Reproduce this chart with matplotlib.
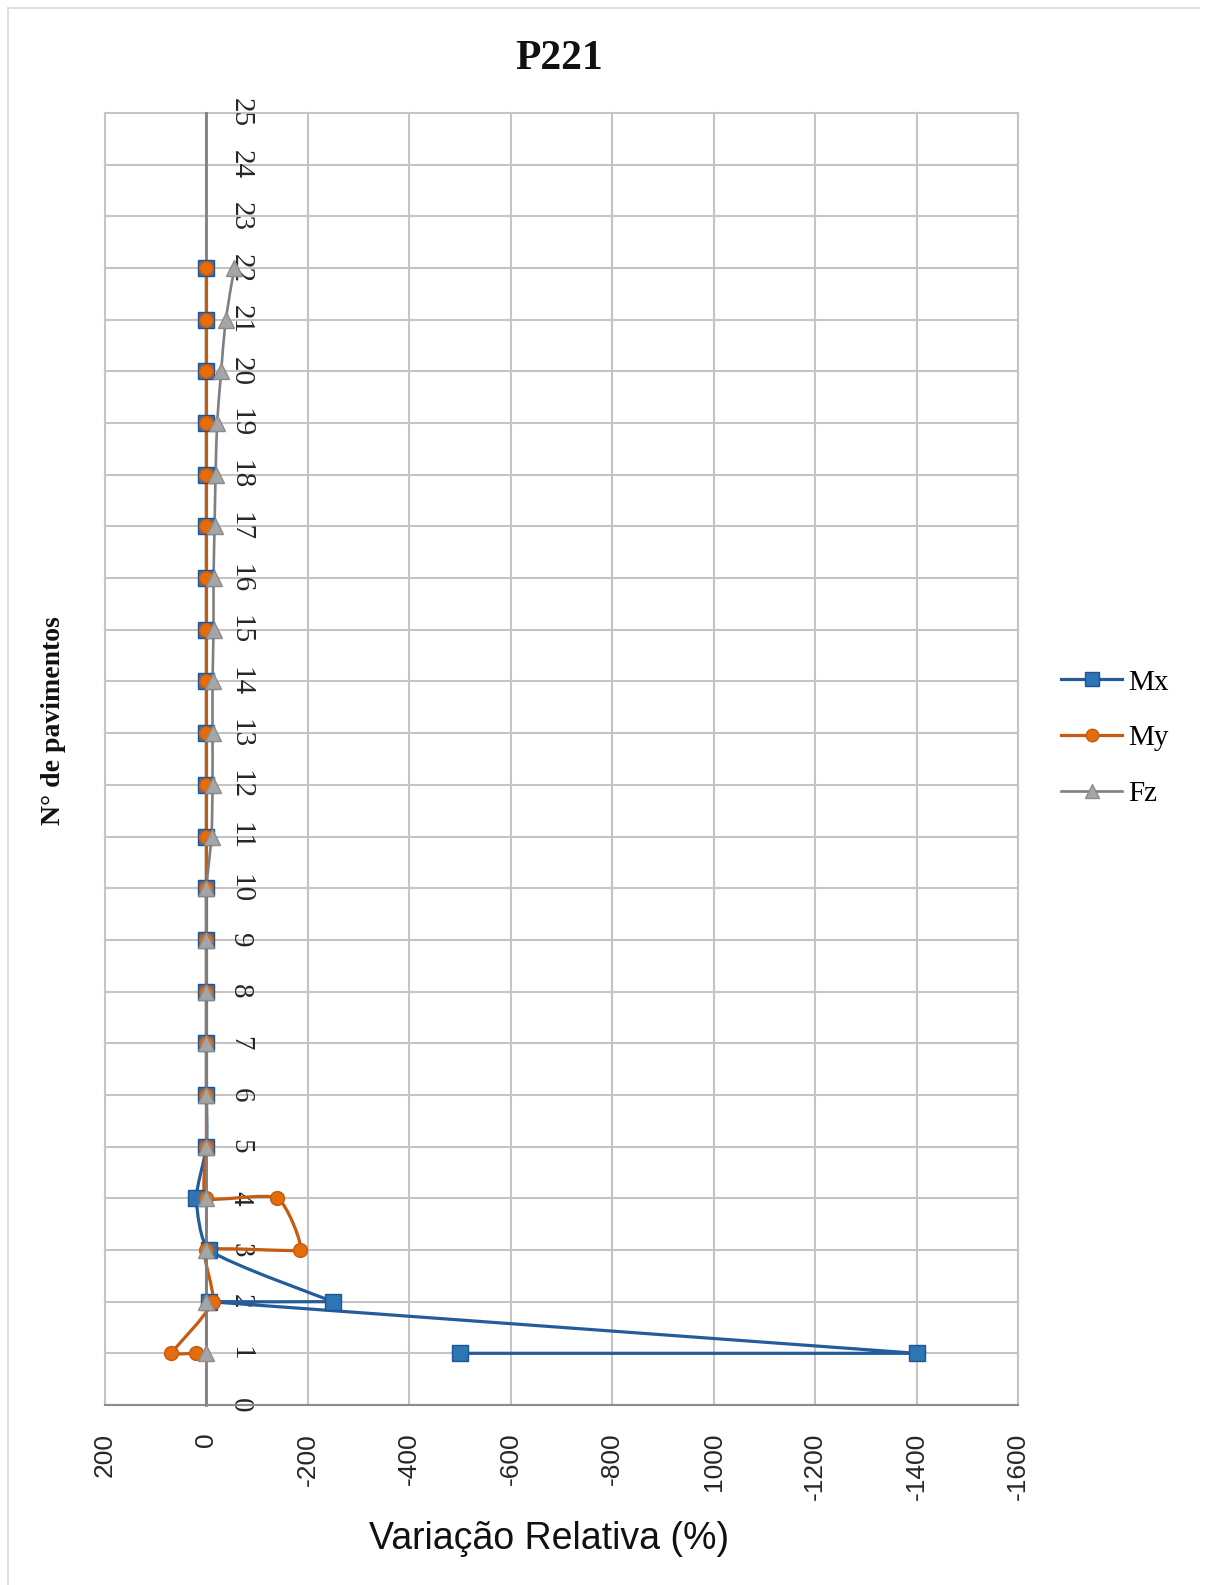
import numpy as np
import matplotlib
matplotlib.use('Agg')
import matplotlib.pyplot as plt
from matplotlib.path import Path
from matplotlib.patches import PathPatch
from matplotlib.lines import Line2D

# data (relative variation %, floor number)
mx_x = [-500, -1400, -5, -250, -5, 20, 0, 0, 0, 0, 0, 0, 0, 0, 0, 0, 0, 0, 0, 0, 0, 0, 0, 0]
mx_y = [1, 1, 2, 2, 3, 4, 5, 6, 7, 8, 9, 10, 11, 12, 13, 14, 15, 16, 17, 18, 19, 20, 21, 22]

my_x = [20, 70, -12, 0, -185, -140, 0, 0, 0, 0, 0, 0, 0, 0, 0, 0, 0, 0, 0, 0, 0, 0, 0, 0, 0]
my_y = [1, 1, 2, 3, 3, 4, 4, 5, 6, 7, 8, 9, 10, 11, 12, 13, 14, 15, 16, 17, 18, 19, 20, 21, 22]

fz_x = [0, 0, 0, 0, 0, 0, 0, 0, 0, 0, -10, -12, -12, -12, -14, -14, -16, -18, -21, -29, -38, -55]
fz_y = [1, 2, 3, 4, 5, 6, 7, 8, 9, 10, 11, 12, 13, 14, 15, 16, 17, 18, 19, 20, 21, 22]

x_ticks = [200, 0, -200, -400, -600, -800, -1000, -1200, -1400, -1600]
x_tick_labels = ['200', '0', '-200', '-400', '-600', '-800', '1000', '-1200', '-1400', '-1600']
y_ticks = list(range(0, 26))

series = [
    ('Mx', mx_x, mx_y, dict(color='#245C9B', marker='s', ms=11, mfc='#2E75B6', mec='#1F5591', lw=2.3)),
    ('My', my_x, my_y, dict(color='#C55A11', marker='o', ms=10, mfc='#E46C0A', mec='#C55A11', lw=2.3)),
    ('Fz', fz_x, fz_y, dict(color='#7F7F7F', marker='^', ms=11, mfc='#A5A5A5', mec='#8C8C8C', lw=1.9)),
]

W, H = 1207, 1585
fig = plt.figure(figsize=(W / 100, H / 100), dpi=100)
ax = fig.add_axes([105 / W, 1 - 1405 / H, (1018 - 105) / W, (1405 - 113) / H])
ax.set_xlim(200, -1600)
ax.set_ylim(0, 25)

# vertical axis line sits at x = 0, labels on its right
ax.spines['right'].set_position(('data', 0))
ax.spines['right'].set_color('#808080')
ax.spines['right'].set_linewidth(2)
ax.spines['left'].set_visible(False)
ax.spines['top'].set_visible(False)
ax.spines['bottom'].set_color('#8C8C8C')
ax.spines['bottom'].set_linewidth(1.5)
ax.yaxis.tick_right()

ax.set_xticks(x_ticks)
ax.set_xticklabels(x_tick_labels, rotation=90, fontfamily='Liberation Sans', fontsize=19, color='#262626')
ax.tick_params(axis='x', length=0, pad=20)

ax.set_yticks(y_ticks)
ax.set_yticklabels([str(v) for v in y_ticks], rotation=-90, va='center', ha='left',
                   fontfamily='Liberation Serif', fontsize=21, color='#262626')
ax.tick_params(axis='y', length=0, pad=15)

ax.grid(True, color='#C4C4C4', linewidth=1.5)
ax.set_axisbelow(True)
for gl in ax.get_xgridlines() + ax.get_ygridlines():
    gl.set_clip_on(False)


def smooth_path(xs, ys):
    # Excel-like smoothed line: cubic bezier through points, computed in pixels
    pts = ax.transData.transform(np.column_stack([xs, ys]))
    n = len(pts)
    tang = np.zeros_like(pts)
    fac = np.ones(n)
    for i in range(n):
        if i == 0:
            tang[i] = pts[1] - pts[0]
        elif i == n - 1:
            tang[i] = pts[-1] - pts[-2]
        else:
            tang[i] = pts[i + 1] - pts[i - 1]
            a = pts[i] - pts[i - 1]
            b = pts[i + 1] - pts[i]
            c = np.dot(a, b) / (np.linalg.norm(a) * np.linalg.norm(b))
            fac[i] = max(0.0, (1 + c) / 2)
    verts = [pts[0]]
    codes = [Path.MOVETO]
    for i in range(n - 1):
        seg = np.linalg.norm(pts[i + 1] - pts[i])
        o1 = fac[i] * tang[i] / 6
        o2 = fac[i + 1] * tang[i + 1] / 6
        for o in (o1, o2):
            ln = np.linalg.norm(o)
            if ln > seg / 5:
                o *= (seg / 5) / ln
        verts += [pts[i] + o1, pts[i + 1] - o2, pts[i + 1]]
        codes += [Path.CURVE4] * 3
    verts = ax.transData.inverted().transform(np.array(verts))
    return Path(verts, codes)


handles = []
for name, xs, ys, st in series:
    ax.add_patch(PathPatch(smooth_path(xs, ys), fill=False, edgecolor=st['color'],
                           lw=st['lw'], capstyle='round', joinstyle='round', zorder=3))
    ax.plot(xs, ys, ls='none', marker=st['marker'], ms=st['ms'], mfc=st['mfc'],
            mec=st['mec'], mew=1, zorder=4, clip_on=False)
    handles.append(Line2D([], [], color=st['color'], lw=st['lw'], marker=st['marker'],
                          ms=st['ms'] - 1, mfc=st['mfc'], mec=st['mec']))

fig.legend(handles, ['Mx', 'My', 'Fz'], loc='center left', bbox_to_anchor=(1061 / W, 1 - 738 / H),
           frameon=False, prop={'family': 'Liberation Serif', 'size': 21}, handlelength=2.1,
           handletextpad=0.2, labelspacing=1.0, borderpad=0, borderaxespad=0, numpoints=1)

fig.text(559 / W, 1 - 59 / H, 'P221', ha='center', va='center', fontsize=30,
         fontweight='bold', fontfamily='Liberation Serif', color='#111111')
fig.text(549 / W, 1 - 1539 / H, 'Variação Relativa (%)', ha='center', va='center',
         fontsize=27, fontfamily='Liberation Sans', color='#111111')
fig.text(53 / W, 1 - 721 / H, 'N° de pavimentos', ha='center', va='center', rotation=90,
         fontsize=20, fontweight='bold', fontfamily='Liberation Serif', color='#111111')

# chart area border (top and left edges visible)
fig.add_artist(Line2D([8 / W, 8 / W], [0, 1 - 8 / H], color='#D9D9D9', lw=1.2))
fig.add_artist(Line2D([8 / W, 1199 / W], [1 - 8 / H, 1 - 8 / H], color='#D9D9D9', lw=1.2))

fig.savefig('out.png', dpi=100)
